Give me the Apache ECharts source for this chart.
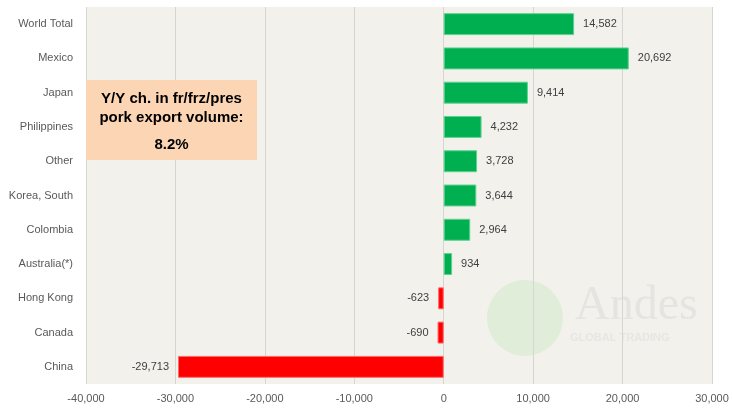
<!DOCTYPE html>
<html>
<head>
<meta charset="utf-8">
<script src="https://cdn.jsdelivr.net/npm/echarts@6/dist/echarts.min.js"></script>
<style>
  html, body { margin: 0; padding: 0; background: #fff; }
  #chart { width: 732px; height: 408px; }
</style>
</head>
<body>
<div id="chart"></div>
<script>
// categories top to bottom
const countries = ['World Total', 'Mexico', 'Japan', 'Philippines', 'Other', 'Korea, South',
  'Colombia', 'Australia(*)', 'Hong Kong', 'Canada', 'China']
const changes = [14582, 20692, 9414, 4232, 3728, 3644, 2964, 934, -623, -690, -29713]
const xTicks = [-40000, 30000, 10000] // min, max, step

const fmt = v => v.toLocaleString('en-US')
const font = '"Liberation Sans", "Open Sans", sans-serif'

const chart = echarts.init(document.getElementById('chart'))

chart.setOption({
  animation: false,
  backgroundColor: '#ffffff',
  grid: {
    left: 86, right: 20, top: 7, bottom: 24,
    show: true, backgroundColor: '#f2f1ec', borderWidth: 0
  },
  xAxis: {
    type: 'value',
    min: xTicks[0], max: xTicks[1], interval: xTicks[2],
    axisLine: { show: false },
    axisTick: { show: false },
    splitLine: { lineStyle: { color: '#d6d5d0', width: 1 } },
    axisLabel: { color: '#595959', fontSize: 11, fontFamily: font, margin: 9, formatter: fmt }
  },
  yAxis: {
    type: 'category',
    data: countries,
    inverse: true,
    axisLine: { show: false },
    axisTick: { show: false },
    axisLabel: { color: '#595959', fontSize: 11, fontFamily: font, margin: 13 }
  },
  series: [{
    type: 'bar',
    barCategoryGap: '36%',
    data: changes.map(v => ({
      value: v,
      itemStyle: { color: v >= 0 ? '#00b050' : '#ff0000', borderColor: v >= 0 ? '#5fd08f' : '#ff6a6a', borderWidth: 1 },
      label: { position: v >= 0 ? 'right' : 'left' }
    })),
    label: {
      show: true, color: '#404040', fontSize: 11, fontFamily: font, distance: 9,
      formatter: p => fmt(p.value)
    }
  }],
  graphic: [
    // faint watermark
    {
      type: 'circle', shape: { cx: 525, cy: 318, r: 38 },
      style: { fill: 'rgba(160, 225, 150, 0.22)' }, silent: true
    },
    {
      type: 'text', left: 575, top: 282,
      style: { text: 'Andes', font: '48px "Liberation Serif", serif', fill: 'rgba(200, 200, 200, 0.3)' }, silent: true
    },
    {
      type: 'text', left: 570, top: 332,
      style: { text: 'GLOBAL TRADING', font: 'bold 11px ' + font, fill: 'rgba(210, 210, 210, 0.35)' }, silent: true
    },
    // annotation box
    {
      type: 'rect', shape: { x: 86, y: 80, width: 171, height: 80 },
      style: { fill: '#fcd5b4' }, z: 10
    },
    {
      type: 'text', x: 171.5, y: 99, z: 11,
      style: { text: 'Y/Y ch. in fr/frz/pres', font: 'bold 15px ' + font, fill: '#000', align: 'center', verticalAlign: 'middle' }
    },
    {
      type: 'text', x: 171.5, y: 118, z: 11,
      style: { text: 'pork export volume:', font: 'bold 15px ' + font, fill: '#000', align: 'center', verticalAlign: 'middle' }
    },
    {
      type: 'text', x: 171.5, y: 145, z: 11,
      style: { text: '8.2%', font: 'bold 15px ' + font, fill: '#000', align: 'center', verticalAlign: 'middle' }
    }
  ]
})
</script>
</body>
</html>
